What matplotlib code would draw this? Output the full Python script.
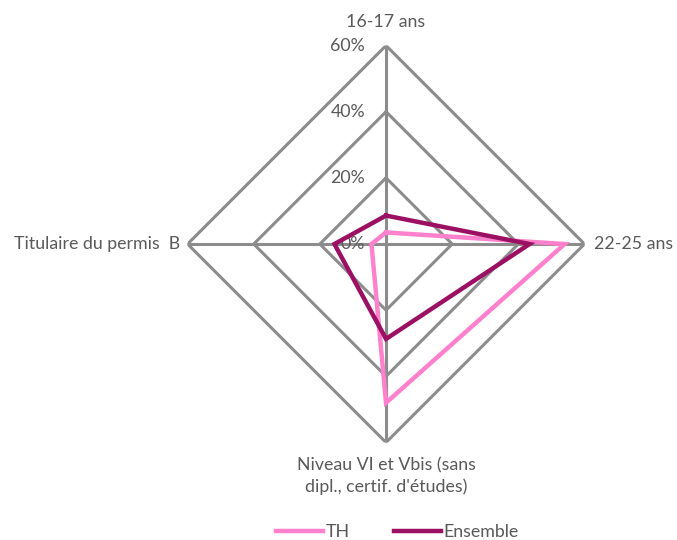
import matplotlib.pyplot as plt
import numpy as np

# axes of the radar (clockwise from top)
axes_labels = ["16-17 ans", "22-25 ans",
               "Niveau VI et Vbis (sans\ndipl., certif. d'études)",
               "Titulaire du permis  B"]
th_values = [3.5, 54, 48, 4.4]
ensemble_values = [8.6, 43.4, 28.7, 15.6]
rings = [20, 40, 60]
ring_labels = ["0%", "20%", "40%", "60%"]

grey = "#8c8c8c"
txt = "#595959"
fs = 12.8
plt.rcParams['font.family'] = ['Lato', 'DejaVu Sans']

fig = plt.figure(figsize=(6.77, 5.40), dpi=100)
ax = fig.add_axes([0.277, 0.1806, 0.5864, 0.735], projection='polar')
ax.set_theta_zero_location('N')
ax.set_theta_direction(-1)
ax.set_ylim(0, 60)
ax.grid(False)
ax.spines['polar'].set_visible(False)
ax.set_xticks([])
ax.set_yticks([])

n = len(axes_labels)
theta = np.arange(n) * 2 * np.pi / n
theta_closed = np.append(theta, theta[0])

# diamond grid + spokes
for r in rings:
    ax.plot(theta_closed, [r] * (n + 1), color=grey, lw=2.2, zorder=1)
for t in theta:
    ax.plot([t, t], [0, 60], color=grey, lw=2.2, zorder=1)

# tick labels along the top spoke
for i, lab in enumerate(ring_labels):
    ax.annotate(lab, xy=(0, i * 20), xytext=(-21, 0), textcoords='offset pixels',
                ha='right', va='center', fontsize=fs, color=txt, zorder=2)

# series
ax.plot(theta_closed, th_values + th_values[:1], color="#ff80cc", lw=3.2,
        label="TH", zorder=3, solid_joinstyle='miter')
ax.plot(theta_closed, ensemble_values + ensemble_values[:1], color="#9b1062",
        lw=3.2, label="Ensemble", zorder=4, solid_joinstyle='miter')

# category labels
ax.annotate(axes_labels[0], xy=(theta[0], 60), xytext=(0, 24), textcoords='offset pixels',
            ha='center', va='center', fontsize=fs, color=txt)
ax.annotate(axes_labels[1], xy=(theta[1], 60), xytext=(10, 0), textcoords='offset pixels',
            ha='left', va='center', fontsize=fs, color=txt)
ax.annotate(axes_labels[2], xy=(theta[2], 60), xytext=(0, -15), textcoords='offset pixels',
            ha='center', va='top', fontsize=fs, color=txt, linespacing=1.35)
ax.annotate(axes_labels[3], xy=(theta[3], 60), xytext=(-7, 0), textcoords='offset pixels',
            ha='right', va='center', fontsize=fs, color=txt)

leg = fig.legend(loc='center', bbox_to_anchor=(0.587, 0.014), ncol=2, frameon=False,
                 fontsize=fs, handlelength=2.65, handletextpad=0.15, columnspacing=2.5)
for t in leg.get_texts():
    t.set_color(txt)

fig.savefig("out.png", dpi=100)
